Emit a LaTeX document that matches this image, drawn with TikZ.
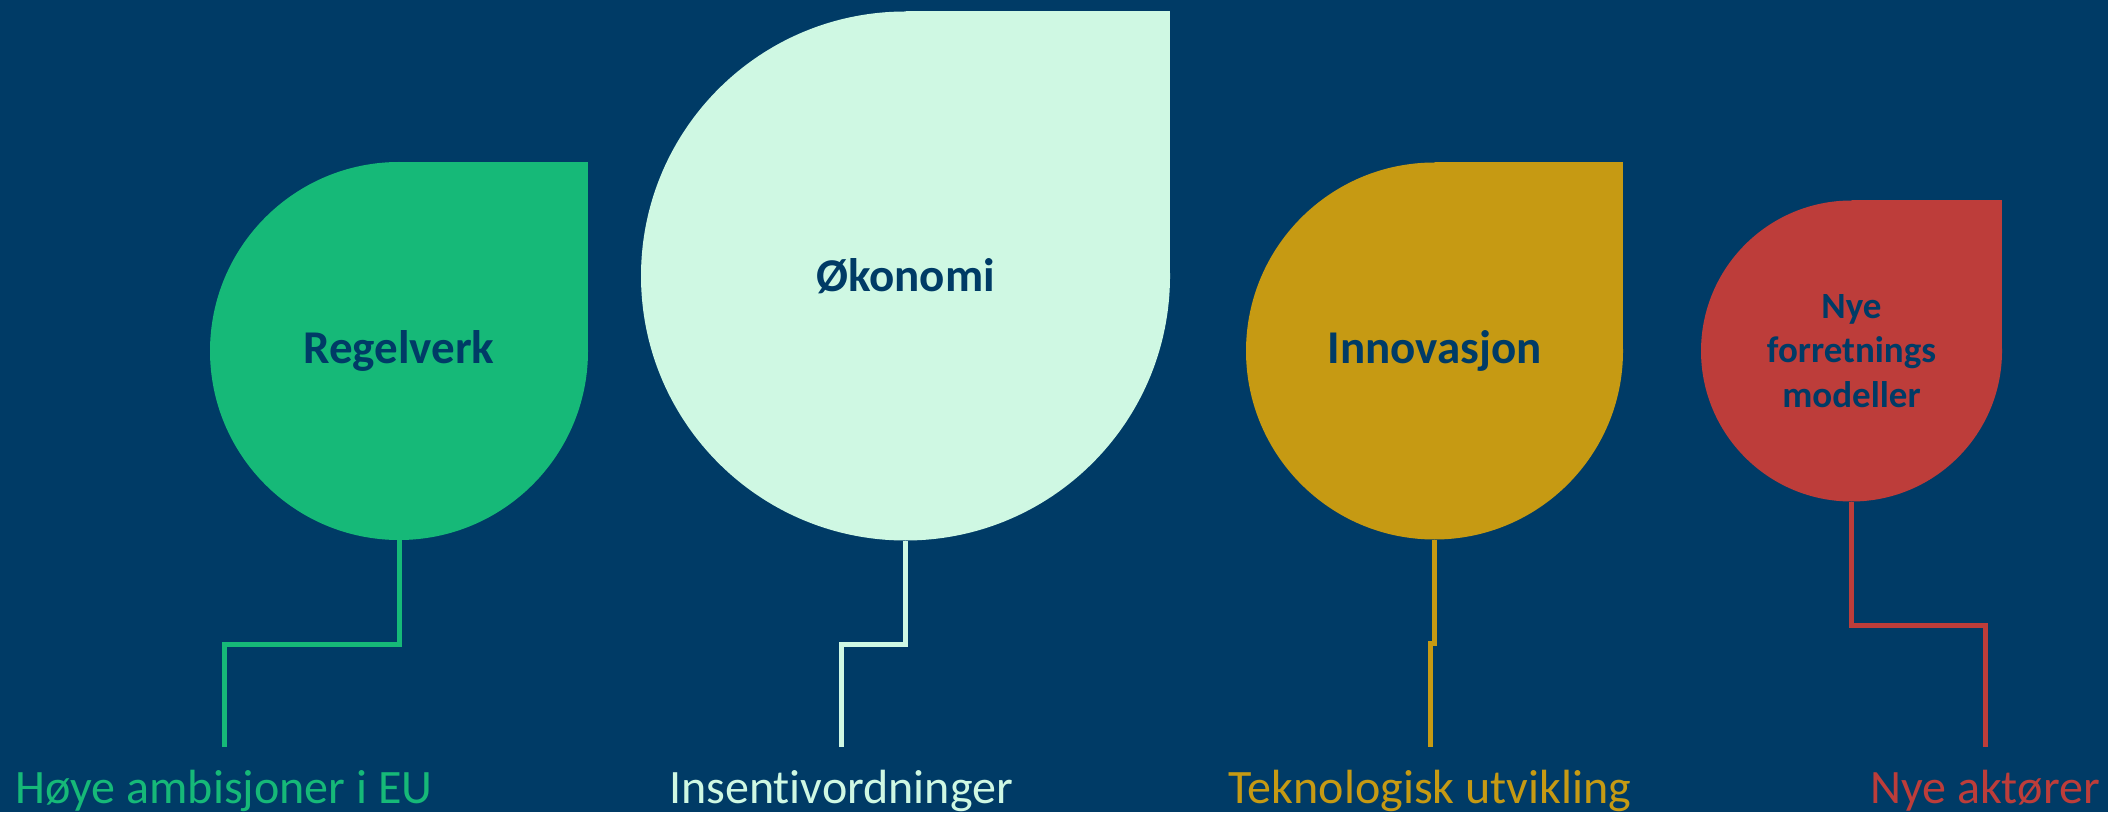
\documentclass[tikz,border=0pt]{standalone}
\usepackage{fontspec}
\setmainfont{Carlito}[Ligatures=NoCommon]
\usepackage{tikz}
\definecolor{navy}{RGB}{0,59,102}
\definecolor{regcol}{RGB}{22,185,120}
\definecolor{okocol}{RGB}{207,248,227}
\definecolor{inncol}{RGB}{198,154,19}
\definecolor{nyecol}{RGB}{189,61,58}
\tikzstyle{drop} = [circle, inner sep=0pt, text=navy, align=center,
    font=\bfseries\fontsize{47}{56}\selectfont]
\tikzstyle{subtext} = [anchor=north, inner sep=0pt, text height=56pt, text depth=12pt,
    font=\fontsize{48}{56}\selectfont]
\tikzstyle{link} = [draw, line width=5pt]

\begin{document}
\begin{tikzpicture}[x=1pt, y=1pt]
    % Background
    \useasboundingbox (0,0) rectangle (2108,812);
    \fill [navy] (0,0) rectangle (2108,812);
    % Square corners of the drops
    \fill [regcol] (399,461) rectangle ++(189,189);
    \fill [okocol] (905.5,536) rectangle ++(264.5,264.5);
    \fill [inncol] (1434.5,461) rectangle ++(188.5,188.5);
    \fill [nyecol] (1851.5,461) rectangle ++(150.5,150.5);
    % Place nodes
    \node [drop, fill=regcol, minimum size=378pt] at (399,461) (reg) {Regelverk};
    \node [drop, fill=okocol, minimum size=529pt] at (905.5,536) (oko) {Økonomi};
    \node [drop, fill=inncol, minimum size=377pt] at (1434.5,461) (inn) {Innovasjon};
    \node [drop, fill=nyecol, minimum size=301pt, font=\bfseries\fontsize{37}{44.5}\selectfont]
        at (1851.5,461) (nye) {Nye\\forretnings\\modeller};
    \node [subtext, text=regcol] at (224,65) (hoye) {Høye ambisjoner i EU};
    \node [subtext, text=okocol] at (841,65) (insentiv) {Insentivordninger};
    \node [subtext, text=inncol] at (1430,65) (tekno) {Teknologisk utvikling};
    \node [subtext, text=nyecol] at (1985,65) (aktor) {Nye aktører};
    % Draw edges
    \path [link, regcol] (reg.south) -- ++(0,-104) -| (hoye.north);
    \path [link, okocol] (oko.south) -- ++(0,-104) -| (insentiv.north);
    \path [link, inncol] (inn.south) -- ++(0,-104) -| (tekno.north);
    \path [link, nyecol] (nye.south) -- ++(0,-124) -| (aktor.north);
\end{tikzpicture}
\end{document}
